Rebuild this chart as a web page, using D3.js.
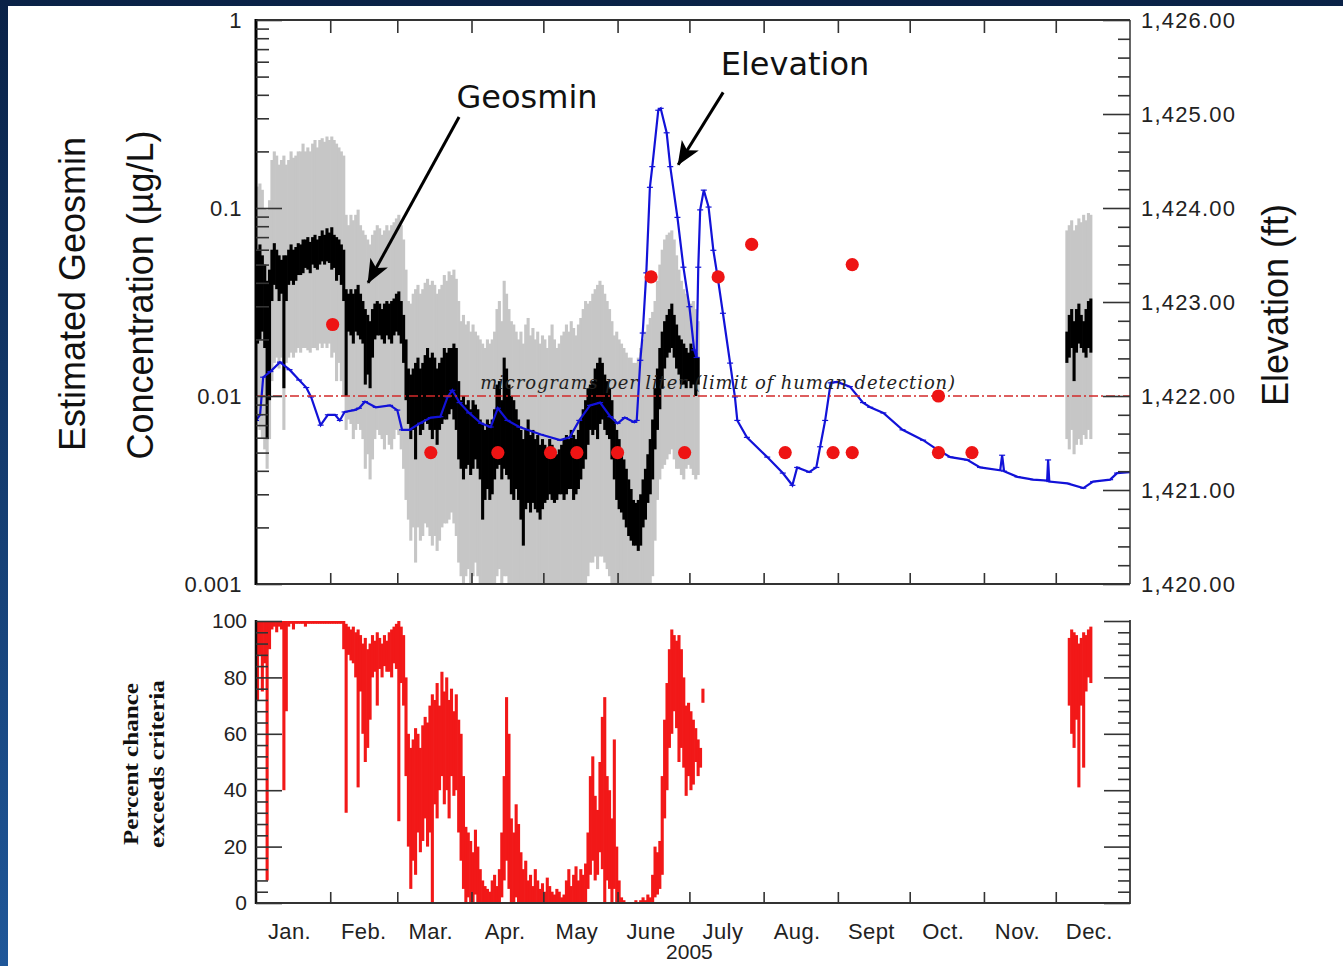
<!DOCTYPE html>
<html><head><meta charset="utf-8">
<script src="https://cdn.jsdelivr.net/npm/d3@7"></script>
<style>html,body{margin:0;padding:0;background:#fff;} svg{display:block;}</style>
</head><body><svg id="chart" width="1343" height="966"></svg>
<script>
// ---------------- DATA ----------------
// Daily estimated geosmin (ug/L), segment 1 starts 2005-01-01 (185 days), segment 2 starts 2005-12-05
const segA = "2005-01-01";
const segD = "2005-12-05";
const grayHiA = [
.13,.135,.125,.10,.098,.11,.18,.20,.19,.17,
.18,.19,.17,.18,.20,.185,.19,.20,.20,.22,
.20,.21,.20,.22,.23,.21,.23,.235,.225,.24,
.23,.24,.23,.22,.21,.20,.19,.092,.081,.092,
.086,.092,.098,.081,.076,.072,.068,.064,.072,.076,
.081,.078,.072,.076,.081,.076,.081,.084,.088,.092,
.081,.068,.047,.032,.031,.035,.037,.039,.035,.037,
.040,.042,.039,.041,.039,.035,.037,.039,.044,.041,
.046,.044,.047,.042,.032,.025,.027,.024,.025,.022,
.024,.022,.021,.020,.019,.018,.020,.019,.020,.022,
.029,.032,.025,.041,.035,.029,.025,.024,.022,.020,
.022,.019,.024,.026,.021,.023,.020,.022,.019,.021,
.020,.018,.021,.024,.020,.018,.019,.021,.022,.024,
.022,.025,.023,.021,.024,.026,.029,.032,.031,.032,
.035,.037,.039,.041,.039,.035,.032,.029,.025,.021,
.022,.020,.019,.018,.017,.016,.016,.015,.015,.016,
.018,.020,.022,.024,.026,.028,.032,.041,.050,.060,
.068,.072,.074,.076,.068,.056,.047,.041,.037,.035,
.032,.031,.032,.029,.025];
const grayLoA = [
.0075,.0066,.0059,.0052,.0041,.0059,.012,.015,.016,.014,
.016,.0066,.015,.016,.017,.016,.017,.018,.017,.018,
.018,.0175,.017,.018,.018,.0175,.019,.018,.019,.018,
.019,.016,.017,.012,.015,.012,.010,.0066,.0075,.0071,
.0059,.0066,.0071,.0066,.0059,.0041,.0049,.0036,.0046,.0059,
.0066,.0062,.0059,.0052,.0062,.0055,.0052,.0059,.0066,.0062,
.0052,.0041,.0028,.0022,.0017,.0020,.0013,.0020,.0017,.0018,
.0021,.0020,.0018,.0016,.0018,.0015,.0017,.0020,.0021,.0021,
.0022,.0024,.0021,.0018,.0013,.0011,.0010,.0011,.0012,.0010,
.0011,.0013,.0011,.001,.001,.001,.001,.001,.001,.001,
.0011,.0012,.001,.0011,.0011,.001,.001,.001,.001,.001,
.001,.001,.001,.001,.001,.001,.001,.001,.001,.001,
.001,.001,.001,.001,.001,.001,.001,.001,.001,.001,
.001,.001,.001,.001,.001,.001,.001,.001,.0011,.0013,
.0013,.0014,.0012,.0014,.0014,.0013,.0012,.0011,.001,.001,
.001,.001,.001,.001,.001,.001,.001,.001,.001,.001,
.001,.001,.001,.001,.001,.0011,.0017,.0028,.0036,.0041,
.0043,.0046,.0049,.0052,.0046,.0041,.0041,.0038,.0036,.0041,
.0043,.0041,.0038,.0036,.0038];
const blackHiA = [
.060,.064,.056,.050,.041,.047,.060,.065,.060,.056,
.053,.056,.056,.060,.064,.060,.062,.065,.064,.068,
.068,.070,.066,.070,.072,.068,.071,.076,.072,.078,
.074,.079,.072,.070,.068,.064,.060,.037,.035,.037,
.035,.037,.039,.035,.032,.029,.027,.025,.029,.031,
.032,.031,.029,.031,.032,.031,.032,.033,.035,.036,
.032,.027,.020,.014,.013,.014,.015,.016,.014,.015,
.0165,.018,.016,.017,.016,.014,.015,.016,.018,.017,
.018,.018,.019,.018,.012,.0095,.010,.009,.0095,.0085,
.0095,.009,.0085,.0075,.0071,.0066,.0075,.0071,.0075,.0085,
.0115,.012,.0095,.016,.014,.0115,.010,.0095,.0085,.0075,
.0066,.0059,.0066,.0075,.0062,.0066,.0059,.0062,.0055,.0059,
.0055,.0052,.0059,.0055,.0052,.0049,.0052,.0055,.0059,.0062,
.0059,.0066,.0062,.0059,.0066,.0075,.0085,.0095,.011,.0115,
.012,.014,.015,.016,.015,.013,.012,.011,.0095,.0075,
.0066,.0059,.0052,.0046,.0041,.0036,.0032,.0028,.0027,.0028,
.0030,.0036,.0041,.0049,.0059,.0075,.011,.014,.018,.022,
.025,.027,.029,.031,.027,.024,.021,.020,.019,.018,
.017,.019,.018,.017,.016];
const blackLoA = [
.019,.020,.022,.018,.0059,.0095,.032,.039,.037,.032,
.035,.011,.032,.039,.041,.039,.041,.044,.044,.045,
.048,.047,.045,.050,.048,.047,.050,.052,.050,.052,
.051,.047,.048,.041,.044,.039,.032,.010,.022,.021,
.019,.022,.021,.020,.019,.0115,.013,.011,.016,.020,
.021,.021,.020,.019,.021,.020,.019,.021,.022,.021,
.019,.015,.0095,.0071,.0059,.0066,.0046,.0071,.0062,.0066,
.0075,.0071,.0066,.0059,.0066,.0055,.0066,.0071,.0075,.0075,
.008,.0085,.0075,.0066,.0046,.0041,.0036,.0041,.0043,.0038,
.0041,.0046,.0041,.0036,.0022,.0028,.0032,.0028,.0030,.0036,
.0041,.0043,.0036,.0041,.0038,.0036,.0030,.0028,.0032,.0028,
.0022,.0016,.0025,.0027,.0024,.0027,.0025,.0024,.0022,.0025,
.0027,.0028,.0030,.0028,.0027,.0028,.0030,.0030,.0028,.0030,
.0032,.0032,.0028,.0030,.0032,.0036,.0041,.0046,.0055,.0066,
.0062,.0066,.0059,.0071,.0075,.0066,.0062,.0059,.0046,.0036,
.0028,.0025,.0024,.0022,.0020,.0018,.0017,.0016,.0016,.0015,
.0016,.0020,.0022,.0027,.0030,.0036,.0052,.0066,.0085,.011,
.014,.016,.017,.018,.016,.014,.013,.0115,.0115,.011,
.012,.011,.0115,.010,.0115];
const grayHiD  = [.076,.081,.086,.076,.081,.088,.084,.092,.086,.094,.092];
const grayLoD  = [.0059,.0052,.0066,.0049,.0055,.0059,.0055,.0062,.0059,.0066,.0059];
const blackHiD = [.022,.027,.029,.025,.029,.031,.027,.025,.029,.032,.033];
const blackLoD = [.015,.016,.018,.012,.017,.019,.018,.017,.016,.018,.017];

// Measured geosmin samples (ug/L)
const sampleDates = ["2005-02-02","2005-03-15","2005-04-12","2005-05-04","2005-05-15","2005-06-01","2005-06-15","2005-06-29","2005-07-13","2005-07-27","2005-08-10","2005-08-30","2005-09-07","2005-09-07","2005-10-13","2005-10-13","2005-10-27"];
const sampleValues = [0.024,0.005,0.005,0.005,0.005,0.005,0.043,0.005,0.043,0.064,0.005,0.005,0.005,0.05,0.01,0.005,0.005];

// Reservoir elevation (ft); day of year (0 = Jan 1)
const elevDoy = [0,1.7,3,6,10,14,18,21,23,27,30,33,35,37,41,43,45.5,50,56,59,61,64,68.5,73,77,80,82,85,89,94,98,101,105,110,119,127,131,135,139.5,143.7,148,151,154,158,159,160.5,161.5,163,164.5,165.5,168,169,171.5,173,176,178.5,181,183,184,184.7,185.5,187,189,191,193,195,198,200,201,205,213.5,220,224,226,231,234,235.6,237.7,240,242.7,248,253.5,256.5,262,270,278.6,284.5,290,297,302.4,310.8,311.6,312.4,318,324.6,330.4,330.8,331.3,338.8,345.5,349.6,356.7,359.6,365];
const elevFt = [1421.74,1421.80,1422.20,1422.26,1422.36,1422.28,1422.17,1422.09,1421.99,1421.69,1421.80,1421.80,1421.74,1421.83,1421.85,1421.87,1421.94,1421.88,1421.90,1421.85,1421.64,1421.64,1421.71,1421.77,1421.78,1421.99,1422.06,1421.93,1421.82,1421.71,1421.67,1421.87,1421.74,1421.67,1421.59,1421.53,1421.56,1421.74,1421.90,1421.93,1421.78,1421.71,1421.77,1421.72,1421.74,1422.38,1422.67,1423.31,1424.22,1424.44,1425.04,1425.06,1424.80,1424.44,1423.90,1423.37,1422.95,1422.49,1422.41,1423.37,1423.98,1424.19,1424.01,1423.55,1423.23,1422.88,1422.35,1421.99,1421.74,1421.56,1421.35,1421.18,1421.05,1421.24,1421.19,1421.24,1421.46,1421.74,1422.14,1422.15,1422.10,1421.93,1421.88,1421.82,1421.64,1421.53,1421.43,1421.35,1421.32,1421.24,1421.21,1421.37,1421.20,1421.14,1421.11,1421.10,1421.32,1421.09,1421.07,1421.02,1421.09,1421.11,1421.18,1421.19];

// Percent chance exceeds criteria, daily high / low; segment starts 2005-01-01 (187 days) and 2005-12-06
const pctA = "2005-01-01";
const pctD = "2005-12-06";
const pctHiA = [
100,100,100,100,100,100,100,100,100,100,
100,100,100,100,100,100,100,100,100,100,
100,100,100,100,100,100,100,100,100,100,
100,100,100,100,100,100,100,99,98,97,
98,96,97,95,92,94,90,92,95,93,
96,94,92,95,93,96,97,98,99,100,
98,95,80,60,55,58,62,60,55,63,
66,64,70,74,72,78,70,82,75,80,
72,76,68,74,65,60,45,27,25,22,
18,26,20,12,8,6,5,4,8,10,
6,12,25,45,73,60,30,25,35,28,
18,12,15,8,10,6,12,8,5,7,
4,9,6,4,3,5,4,2,3,8,
12,6,10,13,8,12,10,14,25,45,
52,38,33,50,66,73,45,40,30,58,
20,8,2,1,0,0,0,0,1,0,
1,2,1,3,2,10,20,18,22,45,
65,78,90,97,95,93,95,90,80,70,
71,68,65,62,58,55,76];
const pctLoA = [
72,88,75,85,8,90,97,98,96,98,
97,40,68,98,99,97,99,99,99,99,
98,99,99,99,99,99,99,99,99,99,
99,99,99,99,99,99,90,32,88,86,
85,80,41,75,60,50,55,65,80,82,
70,83,80,84,82,82,80,85,83,29,
78,70,45,20,5,15,10,25,18,22,
30,20,25,0,35,30,40,45,35,40,
30,45,38,40,25,15,5,0,2,0,
0,3,0,0,0,0,0,0,0,0,
0,0,2,8,15,5,0,0,2,0,
0,0,0,0,0,0,0,0,0,0,
0,0,0,0,0,0,0,0,0,0,
0,0,0,0,0,0,0,0,5,10,
15,8,10,18,12,0,8,5,0,5,
0,0,0,0,0,0,0,0,0,0,
0,0,0,0,0,0,2,3,5,10,
30,40,55,60,68,62,50,55,48,38,
45,40,42,50,45,48,71];
const pctHiD = [94,97,96,95,92,94,96,95,97,98];
const pctLoD = [70,60,55,65,41,70,48,75,80,78];

// Axis tick labels
const concTicks = [1, 0.1, 0.01, 0.001];
const concTickLabels = ["1", "0.1", "0.01", "0.001"];
const elevTicks = [1420, 1421, 1422, 1423, 1424, 1425, 1426];
const pctTicks = [0, 20, 40, 60, 80, 100];
const monthLabels = ["Jan.","Feb.","Mar.","Apr.","May","June","July","Aug.","Sept","Oct.","Nov.","Dec."];
const yearLabel = "2005";
const detectionLimit = 0.01;

// ---------------- CHART ----------------
(function () {
const svg = d3.select("#chart");
const W = 1343, H = 966;
const parse = d3.utcParse("%Y-%m-%d");
const t0 = Date.UTC(2005, 0, 1);
const fromDoy = d => new Date(t0 + d * 864e5);
const dayAt = (start, i) => d3.utcDay.offset(parse(start), i);

// slide background
const defs = svg.append("defs");
const lg = defs.append("linearGradient").attr("id", "bg").attr("x1", 0).attr("y1", 0).attr("x2", 0).attr("y2", 1);
lg.append("stop").attr("offset", "0%").attr("stop-color", "#0a2247");
lg.append("stop").attr("offset", "100%").attr("stop-color", "#1f5799");
svg.append("rect").attr("width", W).attr("height", H).attr("fill", "url(#bg)");
svg.append("rect").attr("x", 8).attr("y", 6).attr("width", W - 8).attr("height", H - 6).attr("fill", "#ffffff");

const L = 256, R = 1130;
const x = d3.scaleUtc().domain([new Date(t0), new Date(Date.UTC(2006, 0, 1))]).range([L, R]);
const yC = d3.scaleLog().domain([0.001, 1]).range([584, 20]);
const yE = d3.scaleLinear().domain([1420, 1426]).range([584, 20]);
const yP = d3.scaleLinear().domain([0, 100]).range([903, 621]);

defs.append("clipPath").attr("id", "clipTop").append("rect").attr("x", L).attr("y", 20).attr("width", R - L).attr("height", 564);
defs.append("clipPath").attr("id", "clipBot").append("rect").attr("x", L).attr("y", 600).attr("width", R - L).attr("height", 303);

const topG = svg.append("g").attr("clip-path", "url(#clipTop)");

function bars(g, start, hi, lo, scale, fill, minH) {
  const n = Math.min(hi.length, lo.length);
  g.selectAll(null).data(d3.range(n)).join("rect")
    .attr("x", i => x(dayAt(start, i)))
    .attr("width", i => x(dayAt(start, i + 1)) - x(dayAt(start, i)) + 0.7)
    .attr("y", i => scale(hi[i]))
    .attr("height", i => Math.max(minH, scale(lo[i]) - scale(hi[i])))
    .attr("fill", fill);
}

// uncertainty band (gray) and estimate (black)
bars(topG.append("g"), segA, grayHiA, grayLoA, yC, "#c6c6c6", 1);
bars(topG.append("g"), segD, grayHiD, grayLoD, yC, "#c6c6c6", 1);
bars(topG.append("g"), segA, blackHiA, blackLoA, yC, "#000000", 2);
bars(topG.append("g"), segD, blackHiD, blackLoD, yC, "#000000", 2);

// elevation line
const elev = elevDoy.map((d, i) => ({ date: fromDoy(d), v: elevFt[i] }));
topG.append("path").datum(elev)
  .attr("fill", "none").attr("stroke", "#1212d8").attr("stroke-width", 2.2)
  .attr("d", d3.line().x(d => x(d.date)).y(d => yE(d.v)));
topG.append("g").selectAll("line").data(elev).join("line")
  .attr("x1", d => x(d.date) - 3).attr("x2", d => x(d.date) + 3)
  .attr("y1", d => yE(d.v)).attr("y2", d => yE(d.v))
  .attr("stroke", "#1212d8").attr("stroke-width", 1.2);

// detection limit line
topG.append("line").attr("x1", L).attr("x2", R)
  .attr("y1", yC(detectionLimit)).attr("y2", yC(detectionLimit))
  .attr("stroke", "#d22a2a").attr("stroke-width", 1.6).attr("stroke-dasharray", "9,3,2,3");
svg.append("text").attr("x", x(fromDoy(93.6))).attr("y", yC(detectionLimit) - 7)
  .attr("font-family", "'DejaVu Serif', 'Liberation Serif', serif").attr("font-style", "italic")
  .attr("font-size", 18).attr("fill", "#222").attr("textLength", 475).attr("lengthAdjust", "spacing")
  .text("micrograms per liter (limit of human detection)");

// samples
svg.append("g").selectAll("circle").data(sampleDates.map((d, i) => ({ date: parse(d), v: sampleValues[i] })))
  .join("circle").attr("cx", d => x(d.date)).attr("cy", d => yC(d.v)).attr("r", 6.6).attr("fill", "#ee1414");

// frame of top panel
const frame = svg.append("g").attr("stroke", "#333").attr("fill", "none");
frame.append("line").attr("x1", L).attr("x2", R).attr("y1", 20).attr("y2", 20).attr("stroke-width", 2);
frame.append("line").attr("x1", L).attr("x2", R).attr("y1", 584).attr("y2", 584).attr("stroke-width", 2);
frame.append("line").attr("x1", R).attr("x2", R).attr("y1", 20).attr("y2", 584).attr("stroke-width", 1.5);
frame.append("line").attr("x1", L).attr("x2", L).attr("y1", 19).attr("y2", 585).attr("stroke", "#000").attr("stroke-width", 3);

const monthTicks = d3.utcMonth.range(new Date(Date.UTC(2005, 1, 1)), new Date(Date.UTC(2005, 11, 2)));
function styleAxis(g) {
  g.select(".domain").remove();
  g.selectAll(".tick line").attr("stroke", "#333").attr("stroke-width", 1.6);
  g.selectAll(".tick text").attr("fill", "#222").attr("font-family", "'Liberation Sans', Arial, sans-serif").attr("font-size", 22);
}
svg.append("g").attr("transform", "translate(0,20)")
  .call(d3.axisTop(x).tickValues(monthTicks).tickSize(-13).tickFormat("")).call(styleAxis);
svg.append("g").attr("transform", "translate(0,584)")
  .call(d3.axisBottom(x).tickValues(monthTicks).tickSize(-11).tickFormat("")).call(styleAxis);

// left log axis
const concMinor = [];
[0.001, 0.01, 0.1].forEach(b => { for (let k = 2; k <= 9; k++) concMinor.push(b * k); });
svg.append("g").attr("transform", `translate(${L},0)`)
  .call(d3.axisLeft(yC).tickValues(concMinor).tickSize(-13).tickFormat("")).call(styleAxis);
svg.append("g").attr("transform", `translate(${L},0)`)
  .call(d3.axisLeft(yC).tickValues(concTicks).tickSize(-26).tickPadding(14)
    .tickFormat((d, i) => concTickLabels[i])).call(styleAxis)
  .call(g => g.selectAll(".tick text").attr("letter-spacing", 0.5));

// right elevation axis
const elevMinor = d3.range(1420.2, 1426, 0.2).filter(v => Math.abs(v - Math.round(v)) > 0.05);
svg.append("g").attr("transform", `translate(${R},0)`)
  .call(d3.axisRight(yE).tickValues(elevMinor).tickSize(-12).tickFormat("")).call(styleAxis);
svg.append("g").attr("transform", `translate(${R},0)`)
  .call(d3.axisRight(yE).tickValues(elevTicks).tickSize(-27).tickPadding(11).tickFormat(d3.format(",.2f")))
  .call(styleAxis).call(g => g.selectAll(".tick text").attr("letter-spacing", 1.2));

// annotations
const mk = defs.append("marker").attr("id", "arrow").attr("markerUnits", "userSpaceOnUse")
  .attr("viewBox", "0 0 24 20").attr("markerWidth", 24).attr("markerHeight", 20)
  .attr("refX", 23).attr("refY", 10).attr("orient", "auto");
mk.append("path").attr("d", "M0,0 L24,10 L0,20 L6,10 Z").attr("fill", "#000");
const annos = [
  { label: "Geosmin", tx: 113.2, ty: yC(0.389), from: [84.8, yC(0.305)], to: [46.8, yC(0.040)] },
  { label: "Elevation", tx: 225.1, ty: yE(1425.53), from: [195.1, yE(1425.23)], to: [176.3, yE(1424.46)] }
];
annos.forEach(a => {
  svg.append("line").attr("x1", x(fromDoy(a.from[0]))).attr("y1", a.from[1])
    .attr("x2", x(fromDoy(a.to[0]))).attr("y2", a.to[1])
    .attr("stroke", "#000").attr("stroke-width", 3).attr("marker-end", "url(#arrow)");
  svg.append("text").attr("x", x(fromDoy(a.tx))).attr("y", a.ty).attr("text-anchor", "middle")
    .attr("dominant-baseline", "central").attr("font-family", "'DejaVu Sans', Verdana, sans-serif")
    .attr("font-size", 32).attr("fill", "#111").text(a.label);
});

// axis titles (top)
const sans = "'Liberation Sans', Arial, sans-serif";
[["Estimated Geosmin", 72, 294], ["Concentration (µg/L)", 140, 295]].forEach(([t, cx, cy]) => {
  svg.append("text").attr("transform", `translate(${cx},${cy}) rotate(-90)`).attr("text-anchor", "middle")
    .attr("dominant-baseline", "central").attr("font-family", sans).attr("font-size", 36).attr("fill", "#111").text(t);
});
svg.append("text").attr("transform", "translate(1275,305) rotate(-90)").attr("text-anchor", "middle")
  .attr("dominant-baseline", "central").attr("font-family", sans).attr("font-size", 36).attr("fill", "#111").text("Elevation (ft)");

// ---------------- bottom panel ----------------
const bot = svg.append("g").attr("clip-path", "url(#clipBot)");
bars(bot.append("g"), pctA, pctHiA, pctLoA, yP, "#f21818", 2.5);
bars(bot.append("g"), pctD, pctHiD, pctLoD, yP, "#f21818", 2.5);

const f2 = svg.append("g").attr("stroke", "#333");
f2.append("line").attr("x1", L).attr("x2", R).attr("y1", 903).attr("y2", 903).attr("stroke-width", 2);
f2.append("line").attr("x1", L).attr("x2", L).attr("y1", 620).attr("y2", 904).attr("stroke", "#111").attr("stroke-width", 2.5);
f2.append("line").attr("x1", R).attr("x2", R).attr("y1", 620).attr("y2", 904).attr("stroke-width", 1.8);

const pctMinor = d3.range(0, 101, 4).filter(v => v % 20 !== 0);
svg.append("g").attr("transform", `translate(${L},0)`)
  .call(d3.axisLeft(yP).tickValues(pctMinor).tickSize(-12).tickFormat("")).call(styleAxis);
svg.append("g").attr("transform", `translate(${L},0)`)
  .call(d3.axisLeft(yP).tickValues(pctTicks).tickSize(-26).tickPadding(9).tickFormat(d3.format("d")))
  .call(styleAxis).call(g => g.selectAll(".tick text").attr("font-size", 21));
svg.append("g").attr("transform", `translate(${R},0)`)
  .call(d3.axisRight(yP).tickValues(pctMinor).tickSize(-12).tickFormat("")).call(styleAxis);
svg.append("g").attr("transform", `translate(${R},0)`)
  .call(d3.axisRight(yP).tickValues(pctTicks).tickSize(-26).tickFormat("")).call(styleAxis);
svg.append("g").attr("transform", "translate(0,903)")
  .call(d3.axisBottom(x).tickValues(monthTicks).tickSize(-11).tickFormat("")).call(styleAxis);

// month labels
svg.append("g").selectAll("text").data(monthLabels).join("text")
  .attr("x", (d, i) => x(new Date(Date.UTC(2005, i, 15)))).attr("y", 939)
  .attr("text-anchor", "middle").attr("font-family", sans).attr("font-size", 22).attr("fill", "#222")
  .attr("letter-spacing", 0.4).text(d => d);
svg.append("text").attr("x", x(new Date(Date.UTC(2005, 6, 1)))).attr("y", 959).attr("text-anchor", "middle")
  .attr("font-family", sans).attr("font-size", 21).attr("fill", "#222").text(yearLabel);

// bottom y title
[["Percent chance", 131, 764, 162], ["exceeds criteria", 157, 764, 168]].forEach(([t, cx, cy, len]) => {
  svg.append("text").attr("transform", `translate(${cx},${cy}) rotate(-90)`).attr("text-anchor", "middle")
    .attr("dominant-baseline", "central").attr("font-family", "'Liberation Serif', 'Times New Roman', serif")
    .attr("font-weight", "bold").attr("font-size", 21).attr("fill", "#111")
    .attr("textLength", len).attr("lengthAdjust", "spacingAndGlyphs").text(t);
});
})();
</script></body></html>
